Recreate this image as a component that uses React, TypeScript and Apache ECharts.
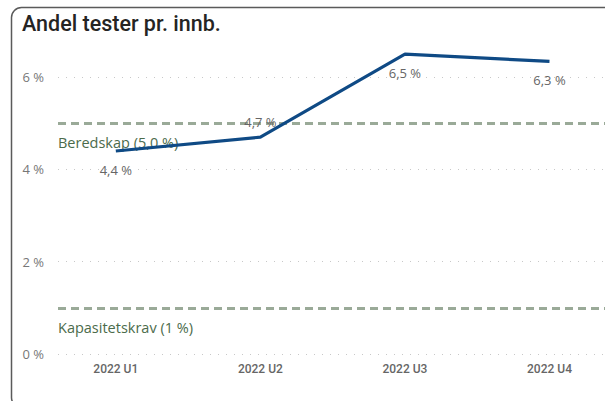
import React, { useEffect, useRef } from "react";
import * as echarts from "echarts";

const title = "Andel tester pr. innb.";
const categories = ["2022 U1", "2022 U2", "2022 U3", "2022 U4"];
const values = [4.4, 4.7, 6.5, 6.34];
const labelPositions = ["bottom", "top", "bottom", "bottom"];
const yTicks = [0, 2, 4, 6];
const refLines = [
  { name: "Beredskap (5,0 %)", value: 5 },
  { name: "Kapasitetskrav (1 %)", value: 1 },
];

const fmtPct = (v: number) => v.toFixed(1).replace(".", ",") + " %";

export default function App() {
  const ref = useRef<HTMLDivElement>(null);
  useEffect(() => {
    if (!ref.current) return;
    const chart = echarts.init(ref.current, null, { renderer: "svg" });
    const labelFont = "'Segoe UI', 'Open Sans', 'Noto Sans', sans-serif";
    chart.setOption({
      animation: false,
      backgroundColor: "#ffffff",
      graphic: [
        {
          type: "rect",
          shape: { x: 11.5, y: 7.5, width: 640, height: 400, r: 10 },
          style: { fill: "none", stroke: "#5a5a5a", lineWidth: 1.5 },
          z: 100,
        },
        {
          type: "text",
          left: 22,
          top: 12,
          style: {
            text: title,
            font: "500 21.5px Roboto, 'DejaVu Sans', sans-serif",
            fill: "#252423",
          },
        },
      ],
      grid: { left: 58, right: 0, top: 31, bottom: 47 },
      xAxis: {
        type: "value",
        min: -0.4,
        max: 3.384,
        splitLine: { show: false },
        axisLine: { show: false },
        axisTick: { show: false },
        axisLabel: {
          customValues: categories.map((_, i) => i),
          formatter: (v: number) => categories[Math.round(v)] ?? "",
          color: "#666666",
          fontSize: 12,
          fontWeight: 500,
          fontFamily: "Roboto, 'DejaVu Sans', sans-serif",
          margin: 9,
        },
      },
      yAxis: {
        type: "value",
        min: 0,
        max: 7,
        interval: 2,
        axisLine: { show: false },
        axisTick: { show: false },
        axisLabel: {
          customValues: yTicks,
          formatter: (v: number) => v + " %",
          color: "#777777",
          fontSize: 13,
          fontFamily: labelFont,
          margin: 14,
        },
        splitLine: {
          showMaxLine: false,
          lineStyle: { color: "#c8c8c8", width: 1, type: [1, 7] },
        },
      },
      series: [
        {
          type: "line",
          z: 1,
          data: [],
          markLine: {
            silent: true,
            symbol: "none",
            lineStyle: { color: "#9aaa98", width: 3, type: [8, 5] },
            data: refLines.map((r) => ({
              name: r.name,
              yAxis: r.value,
              label: {
                show: true,
                position: "insideStartBottom",
                formatter: r.name,
                color: "#4b6b4b",
                fontSize: 14.5,
                fontFamily: labelFont,
                distance: [0, 12],
              },
            })),
          },
        },
        {
          type: "line",
          z: 5,
          data: values.map((v, i) => ({
            value: [i, v],
            label: {
              position: labelPositions[i],
              distance: labelPositions[i] === "top" ? 8 : 12,
            },
          })),
          symbol: "circle",
          symbolSize: 1,
          showSymbol: true,
          itemStyle: { color: "rgba(0,0,0,0)" },
          lineStyle: { color: "#0f4a85", width: 3.2 },
          label: {
            show: true,
            formatter: (p: any) => fmtPct(p.value[1]),
            color: "#666666",
            fontSize: 13,
            fontFamily: labelFont,
          },
        },
      ],
    });
    return () => chart.dispose();
  }, []);
  return (
    <div
      ref={ref}
      style={{ position: "absolute", left: 0, top: 0, width: 605, height: 401 }}
    />
  );
}
